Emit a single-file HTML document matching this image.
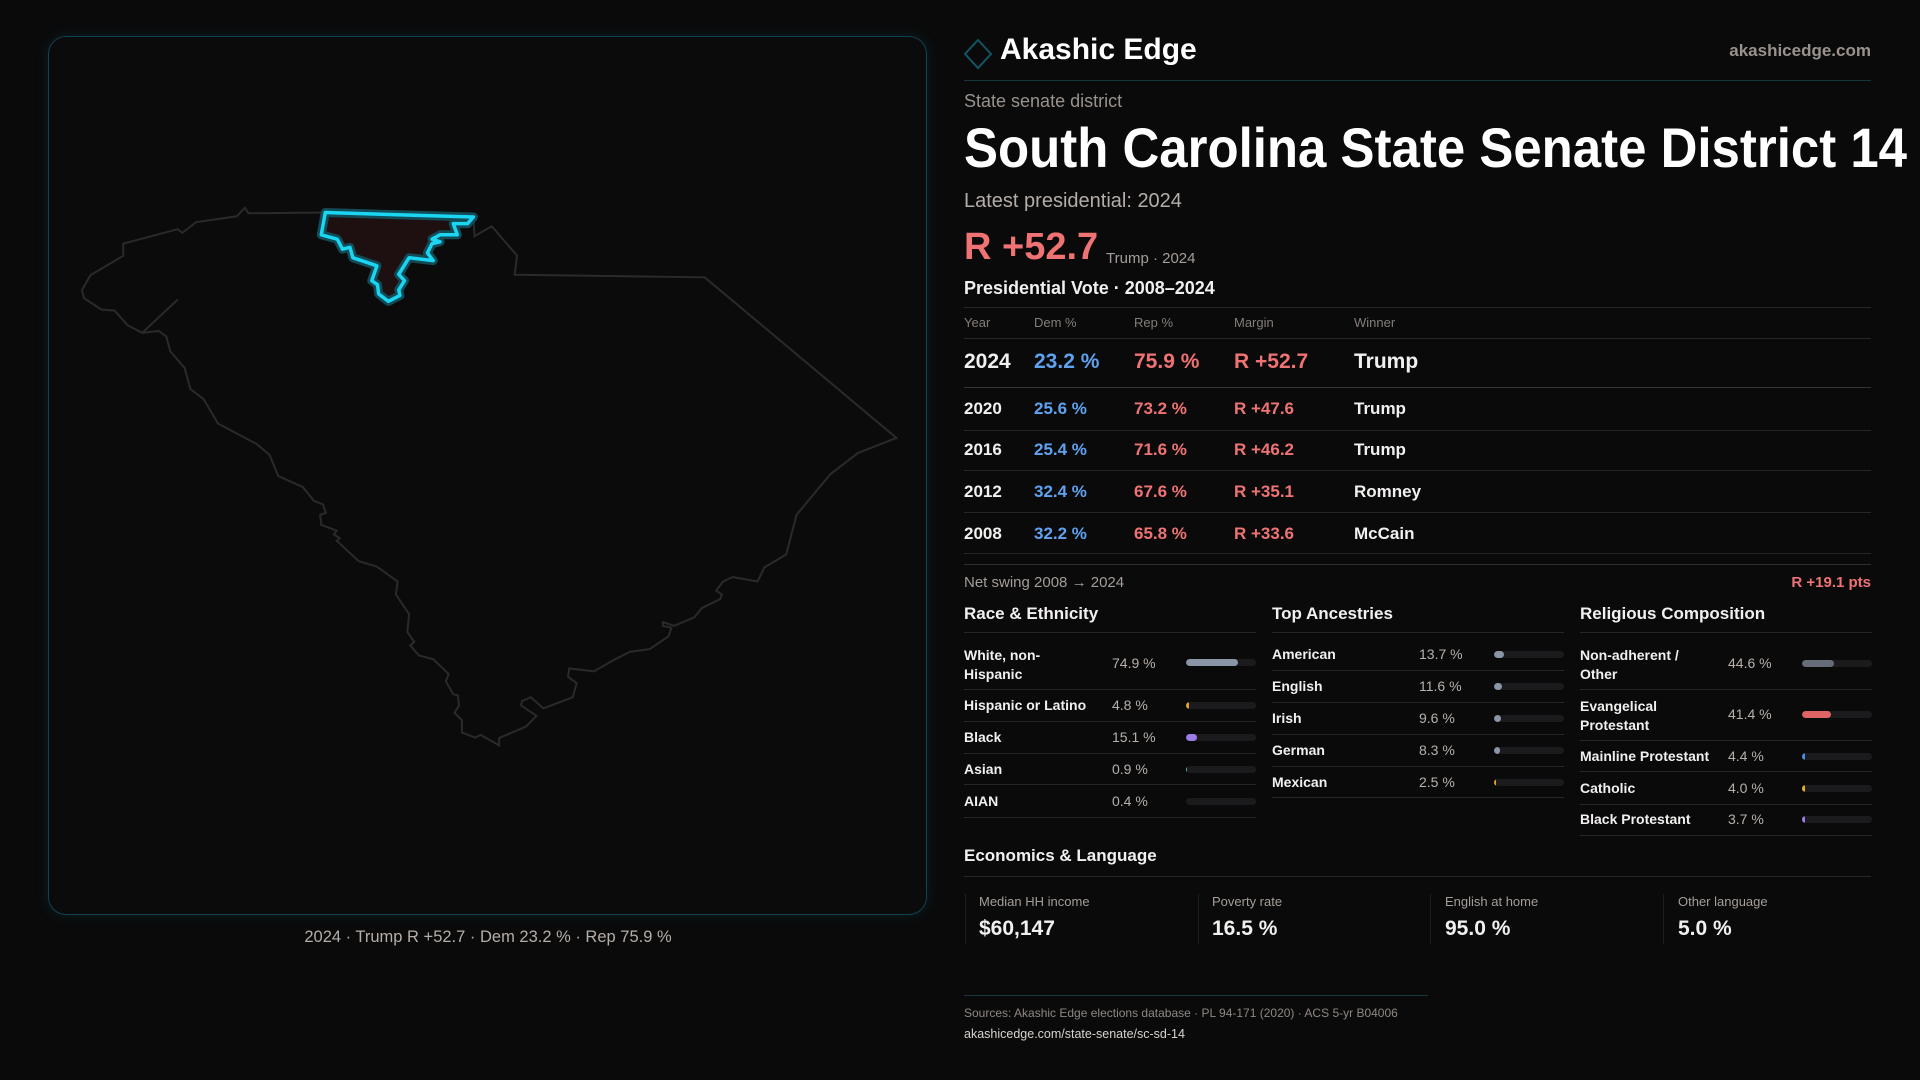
<!DOCTYPE html>
<html><head><meta charset="utf-8"><style>
*{margin:0;padding:0;box-sizing:border-box}
html,body{width:1920px;height:1080px;overflow:hidden;background:#0a0a0b;font-family:"Liberation Sans",sans-serif;color:#f2f0ee}
.t{position:absolute;white-space:nowrap;line-height:1}
.g{color:#a59d97}
.r{color:#f07373}
.b{color:#5fa3f0}
.hl{position:absolute;height:1px;background:#262628}
.bar{position:absolute;height:7px;width:70px;border-radius:4px;background:#1b1b1e;overflow:hidden}
.bar i{position:absolute;left:0;top:0;bottom:0;border-radius:4px}
.lab{font-size:14px;font-weight:bold;color:#f2f0ee}
.val{font-size:14px;color:#b8b0aa}
</style></head><body>
<div style="position:absolute;left:48px;top:36px;width:879px;height:879px;border:1px solid #0f4350;border-radius:18px;background:#0b0b0c;box-shadow:0 0 14px rgba(20,120,140,0.18)"></div>
<svg width="1920" height="1080" style="position:absolute;left:0;top:0">
<g transform="translate(40,180) scale(0.574,0.37)">
<path vector-effect="non-scaling-stroke" fill="none" stroke="#2a2a2c" stroke-width="2" d="M145,172 L240,133 248,143 272,114 343,98 357,75 363,90 500,88 755,100 757,152 787,125 831,204 827,256 1158,263 1492,697 1425,738 1377,795 1318,905 1300,1012 1262,1047 1250,1085 1207,1073 1190,1085 1178,1110 1188,1120 1185,1133 1153,1157 1140,1182 1105,1205 1085,1195 1085,1205 1100,1210 1095,1233 1062,1268 1028,1275 1000,1297 965,1328 922,1320 920,1343 935,1360 928,1398 877,1428 855,1398 840,1408 838,1420 865,1448 847,1477 800,1508 800,1528 768,1500 758,1507 735,1493 735,1460 722,1440 730,1420 728,1393 720,1390 707,1355 712,1335 685,1295 660,1285 645,1258 652,1248 640,1222 643,1173 620,1120 623,1085 587,1045 555,1030 517,975 522,968 512,958 517,948 490,932 488,905 498,900 493,877 477,867 458,830 415,800 400,743 377,713 310,658 285,592 262,565 252,508 227,463 220,423 207,408 178,413 153,393 130,353 107,350 77,320 73,298 88,257 145,205 Z M178,413 L240,323 M500,88 L530,175"/>
<path vector-effect="non-scaling-stroke" fill="#1e1011" stroke="#124a56" stroke-width="9" stroke-linejoin="round" d="M497,88 L755,100 745,118 720,118 727,148 697,148 683,160 697,167 683,172 675,197 685,218 643,210 625,255 635,272 625,297 627,312 607,328 590,308 588,283 578,272 587,232 545,210 540,182 527,187 518,160 490,148 Z"/>
<path vector-effect="non-scaling-stroke" fill="none" stroke="#1ad6f2" stroke-width="3.5" stroke-linejoin="round" d="M497,88 L755,100 745,118 720,118 727,148 697,148 683,160 697,167 683,172 675,197 685,218 643,210 625,255 635,272 625,297 627,312 607,328 590,308 588,283 578,272 587,232 545,210 540,182 527,187 518,160 490,148 Z"/>
</g>
<path d="M978,40 L991,54 978,68 965,54 Z" fill="none" stroke="#0f5564" stroke-width="2"/>
</svg>
<div class="t g" style="left:488px;top:929px;font-size:16.5px;color:#b5ada7;transform:translateX(-50%)">2024 · Trump R +52.7 · Dem 23.2 % · Rep 75.9 %</div>

<div class="t" style="left:1000px;top:35px;font-size:30px;font-weight:bold;color:#fff">Akashic Edge</div>
<div class="t g" style="right:49px;top:42px;font-size:17px;font-weight:bold;color:#9a928c">akashicedge.com</div>
<div class="hl" style="left:964px;top:80px;width:907px;background:#16363d"></div>
<div class="t g" style="left:964px;top:92px;font-size:18px;color:#9a928c">State senate district</div>
<div class="t" style="left:964px;top:120px;font-size:56px;font-weight:bold;color:#fff;transform:scaleX(0.91);transform-origin:left">South Carolina State Senate District 14</div>
<div class="t g" style="left:964px;top:191px;font-size:20px;color:#b5ada7">Latest presidential: 2024</div>
<div class="t r" style="left:964px;top:228px;font-size:38px;font-weight:bold">R +52.7</div>
<div class="t g" style="left:1106px;top:251px;font-size:15px">Trump · 2024</div>
<div class="t" style="left:964px;top:279px;font-size:18px;font-weight:bold">Presidential Vote · 2008–2024</div>
<div class="hl" style="left:964px;top:307px;width:907px"></div>
<div class="t g" style="left:964px;top:316px;font-size:13px;color:#857d78">Year</div>
<div class="t g" style="left:1034px;top:316px;font-size:13px;color:#857d78">Dem %</div>
<div class="t g" style="left:1134px;top:316px;font-size:13px;color:#857d78">Rep %</div>
<div class="t g" style="left:1234px;top:316px;font-size:13px;color:#857d78">Margin</div>
<div class="t g" style="left:1354px;top:316px;font-size:13px;color:#857d78">Winner</div>
<div class="hl" style="left:964px;top:338px;width:907px"></div>
<div class="t" style="left:964px;top:351px;font-size:21px;font-weight:bold">2024</div>
<div class="t b" style="left:1034px;top:351px;font-size:21px;font-weight:bold">23.2 %</div>
<div class="t r" style="left:1134px;top:351px;font-size:21px;font-weight:bold">75.9 %</div>
<div class="t r" style="left:1234px;top:351px;font-size:21px;font-weight:bold">R +52.7</div>
<div class="t" style="left:1354px;top:351px;font-size:21px;font-weight:bold">Trump</div>
<div class="hl" style="left:964px;top:387px;width:907px;background:#333"></div>
<div class="t" style="left:964px;top:400px;font-size:17px;font-weight:bold">2020</div><div class="t b" style="left:1034px;top:400px;font-size:17px;font-weight:bold">25.6 %</div><div class="t r" style="left:1134px;top:400px;font-size:17px;font-weight:bold">73.2 %</div><div class="t r" style="left:1234px;top:400px;font-size:17px;font-weight:bold">R +47.6</div><div class="t" style="left:1354px;top:400px;font-size:17px;font-weight:bold">Trump</div>
<div class="hl" style="left:964px;top:430px;width:907px"></div>
<div class="t" style="left:964px;top:441px;font-size:17px;font-weight:bold">2016</div><div class="t b" style="left:1034px;top:441px;font-size:17px;font-weight:bold">25.4 %</div><div class="t r" style="left:1134px;top:441px;font-size:17px;font-weight:bold">71.6 %</div><div class="t r" style="left:1234px;top:441px;font-size:17px;font-weight:bold">R +46.2</div><div class="t" style="left:1354px;top:441px;font-size:17px;font-weight:bold">Trump</div>
<div class="hl" style="left:964px;top:470px;width:907px"></div>
<div class="t" style="left:964px;top:483px;font-size:17px;font-weight:bold">2012</div><div class="t b" style="left:1034px;top:483px;font-size:17px;font-weight:bold">32.4 %</div><div class="t r" style="left:1134px;top:483px;font-size:17px;font-weight:bold">67.6 %</div><div class="t r" style="left:1234px;top:483px;font-size:17px;font-weight:bold">R +35.1</div><div class="t" style="left:1354px;top:483px;font-size:17px;font-weight:bold">Romney</div>
<div class="hl" style="left:964px;top:512px;width:907px"></div>
<div class="t" style="left:964px;top:525px;font-size:17px;font-weight:bold">2008</div><div class="t b" style="left:1034px;top:525px;font-size:17px;font-weight:bold">32.2 %</div><div class="t r" style="left:1134px;top:525px;font-size:17px;font-weight:bold">65.8 %</div><div class="t r" style="left:1234px;top:525px;font-size:17px;font-weight:bold">R +33.6</div><div class="t" style="left:1354px;top:525px;font-size:17px;font-weight:bold">McCain</div>
<div class="hl" style="left:964px;top:553px;width:907px"></div>
<div class="hl" style="left:964px;top:564px;width:907px;background:#2e2e30"></div>
<div class="t g" style="left:964px;top:575px;font-size:15px">Net swing 2008 → 2024</div>
<div class="t r" style="right:49px;top:575px;font-size:15px;font-weight:bold">R +19.1 pts</div>

<div class="t" style="left:964px;top:605px;font-size:17px;font-weight:bold">Race &amp; Ethnicity</div>
<div class="t" style="left:1272px;top:605px;font-size:17px;font-weight:bold">Top Ancestries</div>
<div class="t" style="left:1580px;top:605px;font-size:17px;font-weight:bold">Religious Composition</div>
<div class="hl" style="left:964px;top:632px;width:292px"></div>
<div class="hl" style="left:1272px;top:632px;width:292px"></div>
<div class="hl" style="left:1580px;top:632px;width:292px"></div>

<div class="t lab" style="left:964px;top:646px;line-height:19px">White, non-<br>Hispanic</div><div class="t val" style="left:1112px;top:656px">74.9 %</div><div class="bar" style="left:1186px;top:659px"><i style="width:74%;background:#8a96a8"></i></div>
<div class="hl" style="left:964px;top:689px;width:292px"></div>
<div class="t lab" style="left:964px;top:698px">Hispanic or Latino</div><div class="t val" style="left:1112px;top:698px">4.8 %</div><div class="bar" style="left:1186px;top:702px"><i style="width:3px;background:#e0a030"></i></div>
<div class="hl" style="left:964px;top:721px;width:292px"></div>
<div class="t lab" style="left:964px;top:730px">Black</div><div class="t val" style="left:1112px;top:730px">15.1 %</div><div class="bar" style="left:1186px;top:734px"><i style="width:15%;background:#9a7de6"></i></div>
<div class="hl" style="left:964px;top:753px;width:292px"></div>
<div class="t lab" style="left:964px;top:762px">Asian</div><div class="t val" style="left:1112px;top:762px">0.9 %</div><div class="bar" style="left:1186px;top:766px"><i style="width:1px;background:#3fc0a0"></i></div>
<div class="hl" style="left:964px;top:784px;width:292px"></div>
<div class="t lab" style="left:964px;top:794px">AIAN</div><div class="t val" style="left:1112px;top:794px">0.4 %</div><div class="bar" style="left:1186px;top:798px"></div>
<div class="hl" style="left:964px;top:817px;width:292px"></div>

<div class="t lab" style="left:1272px;top:647px">American</div><div class="t val" style="left:1419px;top:647px">13.7 %</div><div class="bar" style="left:1494px;top:651px"><i style="width:10px;background:#8a96a8"></i></div>
<div class="hl" style="left:1272px;top:670px;width:292px"></div>
<div class="t lab" style="left:1272px;top:679px">English</div><div class="t val" style="left:1419px;top:679px">11.6 %</div><div class="bar" style="left:1494px;top:683px"><i style="width:8px;background:#8a96a8"></i></div>
<div class="hl" style="left:1272px;top:702px;width:292px"></div>
<div class="t lab" style="left:1272px;top:711px">Irish</div><div class="t val" style="left:1419px;top:711px">9.6 %</div><div class="bar" style="left:1494px;top:715px"><i style="width:7px;background:#8a96a8"></i></div>
<div class="hl" style="left:1272px;top:734px;width:292px"></div>
<div class="t lab" style="left:1272px;top:743px">German</div><div class="t val" style="left:1419px;top:743px">8.3 %</div><div class="bar" style="left:1494px;top:747px"><i style="width:6px;background:#8a96a8"></i></div>
<div class="hl" style="left:1272px;top:766px;width:292px"></div>
<div class="t lab" style="left:1272px;top:775px">Mexican</div><div class="t val" style="left:1419px;top:775px">2.5 %</div><div class="bar" style="left:1494px;top:779px"><i style="width:2px;background:#e0a030"></i></div>
<div class="hl" style="left:1272px;top:797px;width:292px"></div>

<div class="t lab" style="left:1580px;top:646px;line-height:19px">Non-adherent /<br>Other</div><div class="t val" style="left:1728px;top:656px">44.6 %</div><div class="bar" style="left:1802px;top:660px"><i style="width:45%;background:#666c78"></i></div>
<div class="hl" style="left:1580px;top:689px;width:292px"></div>
<div class="t lab" style="left:1580px;top:697px;line-height:19px">Evangelical<br>Protestant</div><div class="t val" style="left:1728px;top:707px">41.4 %</div><div class="bar" style="left:1802px;top:711px"><i style="width:42%;background:#e06464"></i></div>
<div class="hl" style="left:1580px;top:740px;width:292px"></div>
<div class="t lab" style="left:1580px;top:749px">Mainline Protestant</div><div class="t val" style="left:1728px;top:749px">4.4 %</div><div class="bar" style="left:1802px;top:753px"><i style="width:3px;background:#4a90e0"></i></div>
<div class="hl" style="left:1580px;top:771px;width:292px"></div>
<div class="t lab" style="left:1580px;top:781px">Catholic</div><div class="t val" style="left:1728px;top:781px">4.0 %</div><div class="bar" style="left:1802px;top:785px"><i style="width:3px;background:#e0b030"></i></div>
<div class="hl" style="left:1580px;top:804px;width:292px"></div>
<div class="t lab" style="left:1580px;top:812px">Black Protestant</div><div class="t val" style="left:1728px;top:812px">3.7 %</div><div class="bar" style="left:1802px;top:816px"><i style="width:3px;background:#9a7de6"></i></div>
<div class="hl" style="left:1580px;top:835px;width:292px"></div>

<div class="t" style="left:964px;top:847px;font-size:17px;font-weight:bold">Economics &amp; Language</div>
<div class="hl" style="left:964px;top:876px;width:907px"></div>
<div style="position:absolute;left:965px;top:894px;width:1px;height:50px;background:#1e1e20"></div>
<div style="position:absolute;left:1198px;top:894px;width:1px;height:50px;background:#1e1e20"></div>
<div style="position:absolute;left:1430px;top:894px;width:1px;height:50px;background:#1e1e20"></div>
<div style="position:absolute;left:1663px;top:894px;width:1px;height:50px;background:#1e1e20"></div>
<div class="t g" style="left:979px;top:895px;font-size:13px">Median HH income</div><div class="t" style="left:979px;top:918px;font-size:21px;font-weight:bold">$60,147</div>
<div class="t g" style="left:1212px;top:895px;font-size:13px">Poverty rate</div><div class="t" style="left:1212px;top:918px;font-size:21px;font-weight:bold">16.5 %</div>
<div class="t g" style="left:1445px;top:895px;font-size:13px">English at home</div><div class="t" style="left:1445px;top:918px;font-size:21px;font-weight:bold">95.0 %</div>
<div class="t g" style="left:1678px;top:895px;font-size:13px">Other language</div><div class="t" style="left:1678px;top:918px;font-size:21px;font-weight:bold">5.0 %</div>

<div class="hl" style="left:964px;top:995px;width:464px;background:#17373e"></div>
<div class="t g" style="left:964px;top:1007px;font-size:12px;color:#8f8782">Sources: Akashic Edge elections database · PL 94-171 (2020) · ACS 5-yr B04006</div>
<div class="t" style="left:964px;top:1028px;font-size:12.5px;color:#d8d2cc">akashicedge.com/state-senate/sc-sd-14</div>
</body></html>
